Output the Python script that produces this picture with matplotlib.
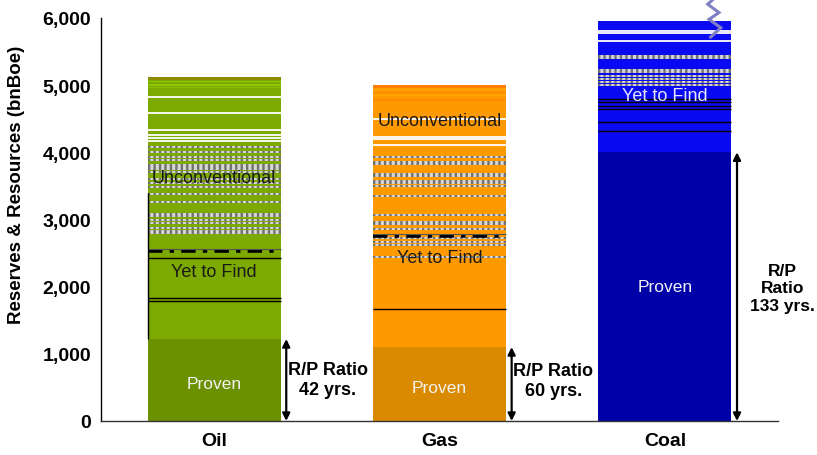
import matplotlib
matplotlib.use("Agg")
import matplotlib.pyplot as plt
import numpy as np

plt.rcParams['font.family'] = ['Liberation Sans', 'DejaVu Sans']

# --- data (bn barrels of oil equivalent) ---
categories = ["Oil", "Gas", "Coal"]
proven = [1220, 1100, 4000]
yet_to_find = [1320, 1660, 1950]
unconventional = [2580, 2240, 0]
rp_years = [42, 60, 133]

# horizontal texture lines inside each bar (bnBoe levels)
white_lines = {
    "Oil": [4828, 4581, 4337, 4258, 4218, 4173],
    "Gas": [4496, 4224, 4198, 4109],
    "Coal": [5801, 5772, 5653],
}
gray_lines = {
    "Oil": [4075, 4005, 3935, 3890, 3811, 3786, 3752, 3707, 3600, 3540, 3480,
            3380, 3260, 3082, 3057, 2997, 2948, 2869, 2833, 2799],
    "Gas": [3926, 3851, 3826, 3677, 3652, 3578, 3538, 3503, 3354, 3067, 2967,
            2933, 2858, 2720, 2660, 2620, 2437],
    "Coal": [5439, 5399, 5230, 5191, 5131, 5092, 5042, 5002],
}
black_lines = {
    "Oil": [2422, 1836, 1791],
    "Gas": [1667],
    "Coal": [4794, 4745, 4694, 4645, 4456, 4313],
}
dashdot_line = {"Oil": 2535, "Gas": 2759}
top_bands = {
    "Oil": [(5080, 5120, "#8C8A00"), (5040, 5065, "#8CC800"), (4990, 5010, "#8CC800"),
            (4955, 4970, "#86BC00")],
    "Gas": [(4960, 5000, "#FF8000"), (4930, 4945, "#FFAA00"), (4880, 4905, "#FF8400"),
            (4840, 4860, "#FFA800"), (4760, 4790, "#FF8C00")],
    "Coal": [],
}

proven_colors = ["#6B9000", "#D98A00", "#0000A8"]
upper_colors = ["#7DAA00", "#FF9900", "#0A0AF2"]
label_colors = {"Oil": "#1A1A1A", "Gas": "#1A1A1A", "Coal": "#E4E4FF"}

unconv_label_y = {"Oil": 3630, "Gas": 4480}
ytf_label_y = {"Oil": 2220, "Gas": 2430, "Coal": 4840}
rp_text_y = [620, 600, 1980]

fig = plt.figure(figsize=(8.17, 4.56), dpi=100)
ax = fig.add_axes([0.1236, 0.0746, 0.8287, 0.8838])

x = np.arange(len(categories))
width = 0.59

ax.bar(x, proven, width, color=proven_colors, zorder=2)
ax.bar(x, yet_to_find, width, bottom=proven, color=upper_colors, zorder=2)
ax.bar(x, unconventional, width, bottom=np.add(proven, yet_to_find),
       color=upper_colors, zorder=2)

for i, cat in enumerate(categories):
    x0, x1 = x[i] - width / 2, x[i] + width / 2
    for lo, hi, c in top_bands[cat]:
        ax.fill_between([x0, x1], lo, hi, color=c, lw=0, zorder=3)
    ax.hlines(white_lines[cat], x0, x1, colors="white", lw=1.3, zorder=4)
    ax.hlines(gray_lines[cat], x0, x1, colors="#D8D8D8", lw=1.4, zorder=4)
    ax.hlines(gray_lines[cat], x0, x1, colors="#6E6E6E", lw=1.4,
              linestyles=(0, (1.2, 1.6)), zorder=4)
    ax.hlines(black_lines[cat], x0, x1, colors="black", lw=1.0, zorder=4)
    if cat in dashdot_line:
        ax.hlines(dashdot_line[cat], x0, x1, colors="black", lw=2.6,
                  linestyles=(0, (4, 2, 1.2, 2)), zorder=4)
        ax.hlines(dashdot_line[cat] + 30, x0, x1, colors="#555555", lw=0.8,
                  zorder=4)

    # segment labels
    ax.text(x[i], proven[i] * 0.5 - (50 if cat != "Coal" else 0), "Proven",
            ha="center", va="center", fontsize=12.5, color="#F2F2F2", zorder=5)
    ax.text(x[i], ytf_label_y[cat], "Yet to Find", ha="center", va="center",
            fontsize=13, color=label_colors[cat], zorder=5)
    if cat in unconv_label_y:
        ax.text(x[i], unconv_label_y[cat], "Unconventional", ha="center",
                va="center", fontsize=13, color="#1A1A1A", zorder=5)

    # reserves-to-production arrows
    ax_x = x[i] + 0.32
    ax.annotate("", xy=(ax_x, proven[i]), xytext=(ax_x, 0),
                arrowprops=dict(arrowstyle="<|-|>", color="black", lw=1.6,
                                mutation_scale=11, shrinkA=0, shrinkB=0),
                zorder=6, annotation_clip=False)
    if cat == "Coal":
        txt = f"R/P\nRatio\n{rp_years[i]} yrs."
        tx = x[i] + 0.522
        fs = 12.5
    else:
        txt = f"R/P Ratio\n{rp_years[i]} yrs."
        tx = x[i] + 0.505
        fs = 13
    ax.text(tx, rp_text_y[i], txt, ha="center", va="center", fontsize=fs,
            fontweight="bold", linespacing=1.2, clip_on=False, zorder=6)

# oil left-edge rule
ax.vlines(x[0] - width / 2, proven[0], 3400, colors="black", lw=1.0, zorder=5)

# break mark above the coal bar
zz_dx = np.array([0.215, 0.19, 0.24, 0.196, 0.248, 0.203])
zz_y = np.array([6280, 6205, 6080, 5980, 5855, 5715])
ax.plot(x[2] + zz_dx, zz_y, color="#8080C4", lw=2.2, clip_on=False, zorder=7,
        solid_joinstyle="miter")

ax.set_xlim(-0.502, 2.502)
ax.set_ylim(0, 6000)
ax.set_yticks(np.arange(0, 6001, 1000))
ax.set_yticklabels([f"{v:,}" for v in range(0, 6001, 1000)])
ax.set_xticks(x)
ax.set_xticklabels(categories)
ax.tick_params(axis="y", length=0, pad=7, labelsize=14)
ax.tick_params(axis="x", length=0, pad=8, labelsize=14)
for lab in ax.get_xticklabels() + ax.get_yticklabels():
    lab.set_fontweight("bold")

ax.set_ylabel("Reserves & Resources (bnBoe)", fontsize=13.5, fontweight="bold")
ax.yaxis.set_label_coords(-0.112, 0.588)

for s in ["top", "right"]:
    ax.spines[s].set_visible(False)
ax.spines["left"].set_linewidth(1.0)
ax.spines["bottom"].set_linewidth(1.0)
ax.spines["bottom"].set_color("#333333")

fig.savefig("out.png", dpi=100)
